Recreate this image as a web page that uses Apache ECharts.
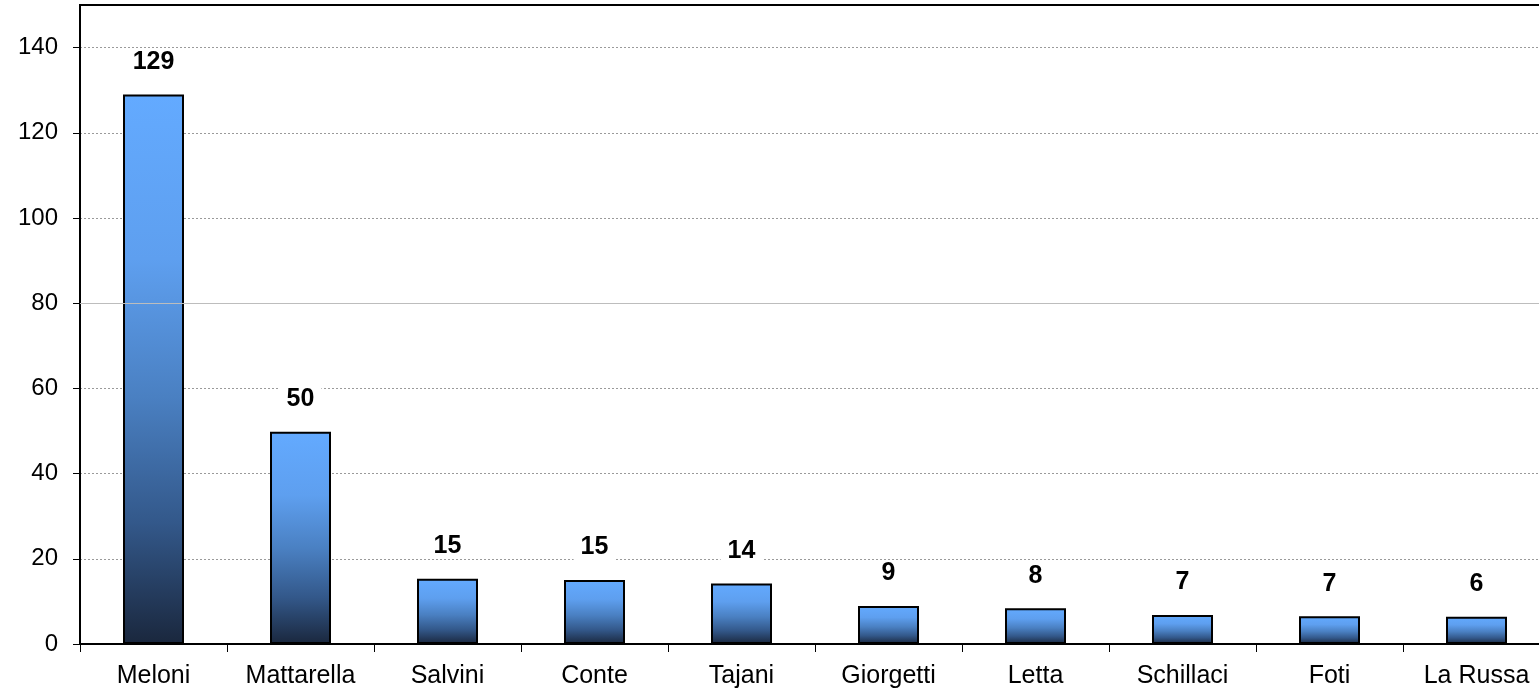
<!DOCTYPE html>
<html>
<head>
<meta charset="utf-8">
<script src="https://cdn.jsdelivr.net/npm/echarts@6/dist/echarts.min.js"></script>
<style>
html,body{margin:0;padding:0;background:#fff;}
#chart{width:1539px;height:691px;}
</style>
</head>
<body>
<div id="chart"></div>
<script>
const categories = ['Meloni','Mattarella','Salvini','Conte','Tajani','Giorgetti','Letta','Schillaci','Foti','La Russa'];
const values = [129, 49.8, 15.3, 15.0, 14.2, 8.9, 8.4, 6.8, 6.5, 6.4];
const valueLabels = ['129','50','15','15','14','9','8','7','7','6'];
const yTicks = [0, 20, 40, 60, 80, 100, 120, 140];

const FONT = "'Liberation Sans', Arial, Helvetica, sans-serif";
const chart = echarts.init(document.getElementById('chart'));
chart.setOption({
  animation: false,
  backgroundColor: '#fff',
  grid: {
    left: 80, width: 1470, top: 5, height: 639,
    outerBoundsMode: 'none',
    containLabel: false,
    show: true, borderColor: '#000', borderWidth: 2, backgroundColor: 'transparent'
  },
  xAxis: {
    type: 'category',
    data: categories,
    boundaryGap: true,
    axisLine: { lineStyle: { color: '#000', width: 2 } },
    axisTick: { show: true, interval: 0, length: 8, lineStyle: { color: '#000', width: 1 } },
    axisLabel: { interval: 0, margin: 20, color: '#000', fontSize: 25, fontFamily: FONT }
  },
  yAxis: {
    type: 'value',
    min: 0, max: 150, interval: 20,
    axisLine: { show: true, lineStyle: { color: '#000', width: 2 } },
    axisTick: { show: true, length: 7, lineStyle: { color: '#000', width: 1 } },
    axisLabel: {
      showMaxLabel: false, margin: 22, color: '#000', fontSize: 24, fontFamily: FONT,
      formatter: v => yTicks.includes(v) ? String(v) : ''
    },
    splitLine: { show: true, showMaxLine: false, lineStyle: { color: '#9a9a9a', width: 1, type: [2, 2] } }
  },
  series: [
    {
      type: 'line',
      data: [],
      z: 1,
      silent: true,
      markLine: {
        silent: true,
        symbol: 'none',
        label: { show: false },
        lineStyle: { color: '#bdbdbd', width: 1, type: 'solid' },
        data: [{ yAxis: yTicks[4] }]
      }
    },
    {
      type: 'bar',
      data: values,
      barWidth: 61,
      z: 3,
      itemStyle: {
        borderColor: '#000',
        borderWidth: 2,
        color: {
          type: 'linear', x: 0, y: 0, x2: 0, y2: 1,
          colorStops: [
            { offset: 0, color: '#63aaff' },
            { offset: 0.3, color: '#5e9fef' },
            { offset: 0.55, color: '#4a80c2' },
            { offset: 0.78, color: '#33588a' },
            { offset: 1, color: '#1a273d' }
          ]
        }
      },
      label: {
        show: true,
        position: 'top',
        distance: 20,
        color: '#000',
        fontSize: 25,
        fontWeight: 'bold',
        fontFamily: FONT,
        backgroundColor: '#fff',
        padding: [0, 7],
        formatter: p => valueLabels[p.dataIndex]
      }
    }
  ]
});
</script>
</body>
</html>
